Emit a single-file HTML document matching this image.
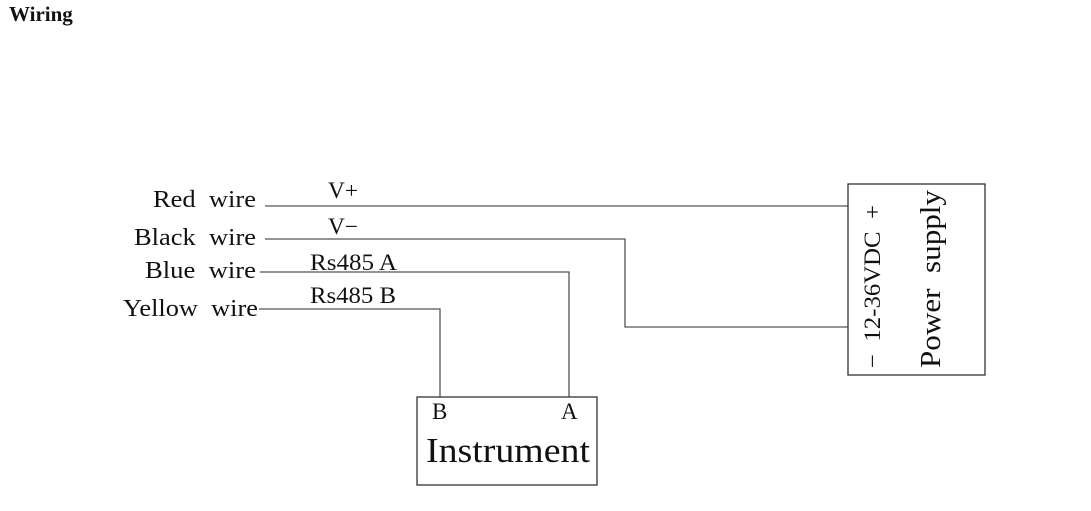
<!DOCTYPE html>
<html><head><style>
body{margin:0;background:#fff;width:1091px;height:506px;overflow:hidden}
text{white-space:pre}
</style></head><body>
<svg width="1091" height="506" xmlns="http://www.w3.org/2000/svg" font-family="Liberation Serif, serif" fill="#111">
<text x="9" y="21" font-size="21" font-weight="bold">Wiring</text>
<g font-size="24">
<text x="153" y="207" textLength="103" lengthAdjust="spacingAndGlyphs">Red  wire</text>
<text x="134" y="245" textLength="122" lengthAdjust="spacingAndGlyphs">Black  wire</text>
<text x="145" y="278" textLength="111" lengthAdjust="spacingAndGlyphs">Blue  wire</text>
<text x="123" y="316" textLength="135" lengthAdjust="spacingAndGlyphs">Yellow  wire</text>
</g>
<g font-size="23">
<text x="328" y="198" textLength="30" lengthAdjust="spacingAndGlyphs">V+</text>
<text x="328" y="234" textLength="30" lengthAdjust="spacingAndGlyphs">V−</text>
<text x="310" y="270" textLength="87" lengthAdjust="spacingAndGlyphs">Rs485 A</text>
<text x="310" y="303" textLength="86" lengthAdjust="spacingAndGlyphs">Rs485 B</text>
</g>
<g stroke="#555" stroke-width="1.3" fill="none">
<polyline points="265,206 848,206"/>
<polyline points="265,239 625,239 625,327 848,327"/>
<polyline points="260,272 569,272 569,397"/>
<polyline points="259,309 440,309 440,397"/>
<rect x="417" y="397" width="180" height="88" stroke="#333"/>
<rect x="848" y="184" width="137" height="191" stroke="#333"/>
</g>
<text x="432" y="419" font-size="23">B</text>
<text x="561" y="419" font-size="23">A</text>
<text x="426" y="462" font-size="35" textLength="164" lengthAdjust="spacingAndGlyphs">Instrument</text>
<g transform="translate(880,368) rotate(-90)">
<text x="0" y="0" font-size="23" textLength="163" lengthAdjust="spacingAndGlyphs">−  12-36VDC  +</text>
</g>
<g transform="translate(940,368) rotate(-90)">
<text x="0" y="0" font-size="29" textLength="178" lengthAdjust="spacingAndGlyphs">Power  supply</text>
</g>
</svg>
</body></html>
